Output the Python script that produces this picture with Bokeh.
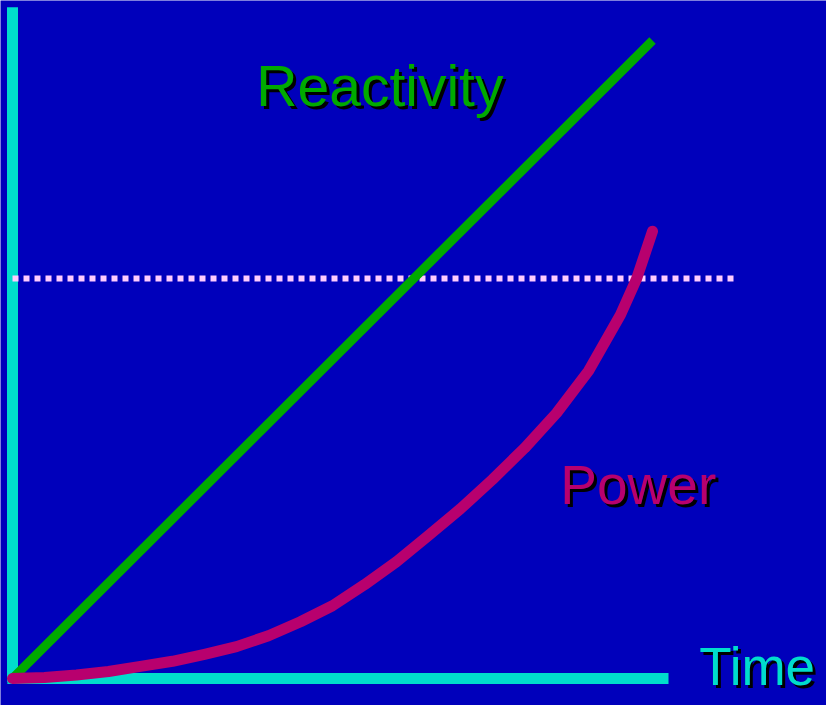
from bokeh.plotting import figure
from bokeh.models import Range1d
from bokeh.core.properties import value
from bokeh.embed import file_html
from bokeh.resources import INLINE

# ---- data (arbitrary units: time 0..100, reactivity 0..100) ----
time = [0, 5, 10, 15, 20, 25, 30, 35, 40, 45, 50, 55, 60, 65, 70, 75, 80, 85, 90, 95, 97.5, 100]
power = [0, 0.16, 0.55, 1.1, 1.9, 2.7, 3.8, 5.0, 6.7, 8.9, 11.4, 14.7, 18.3, 22.4, 26.6,
         31.2, 36.1, 41.6, 48.2, 57.0, 62.6, 70.1]
react_time = [0, 100]
reactivity = [0, 100]
threshold = 62.7
threshold_span = [0, 112.7]
x_axis_span = [-0.8, 102.5]
y_axis_span = [-0.5, 105.2]
labels = ["Reactivity", "Power", "Time"]

BG = "#0000BB"
CYAN = "#00DDCC"
GREEN = "#00AA00"
MAGENTA = "#B8006E"
PINK = "#FFCCFF"
FONT = "Liberation Sans"

W, H = 826, 705
p = figure(width=W, height=H, output_backend="svg", toolbar_location=None,
           x_range=Range1d(-12 / 6.4, (W - 12) / 6.4),
           y_range=Range1d(-(H - 678) / 6.38, 678 / 6.38),
           min_border=0)
p.axis.visible = False
p.grid.visible = False
p.outline_line_color = None
p.background_fill_color = BG
p.border_fill_color = BG

# axes
p.line(x=[0, 0], y=y_axis_span, line_color=CYAN, line_width=11, line_cap="butt")
p.line(x=x_axis_span, y=[0, 0], line_color=CYAN, line_width=11, line_cap="butt")

# threshold dashed line
p.line(x=threshold_span, y=[threshold, threshold], line_color=PINK, line_width=6,
       line_dash="6 5", line_cap="butt")

# reactivity
p.line(x=react_time, y=reactivity, line_color=GREEN, line_width=9, line_cap="butt")

# power
p.line(x=time, y=power, line_color=MAGENTA, line_width=11, line_cap="round",
       line_join="round")

# labels
label_x = [38.1, 85.6, 107.3]
label_y = [92.8, 30.3, 1.9]
label_colors = [GREEN, MAGENTA, CYAN]
label_sizes = ["57px", "55px", "53px"]
for t, lx, ly, c, s in zip(labels, label_x, label_y, label_colors, label_sizes):
    p.text(x=[lx], y=[ly], text=[t], text_font=value(FONT), text_font_size=s,
           text_color="black", text_align="left", text_baseline="alphabetic",
           x_offset=3, y_offset=3)
    p.text(x=[lx], y=[ly], text=[t], text_font=value(FONT), text_font_size=s,
           text_color=c, text_align="left", text_baseline="alphabetic")

html = file_html(p, INLINE)
html = html.replace("<body>", '<body style="margin:0;overflow:hidden;background:%s;">' % BG, 1)
open("out.html", "w").write(html)
